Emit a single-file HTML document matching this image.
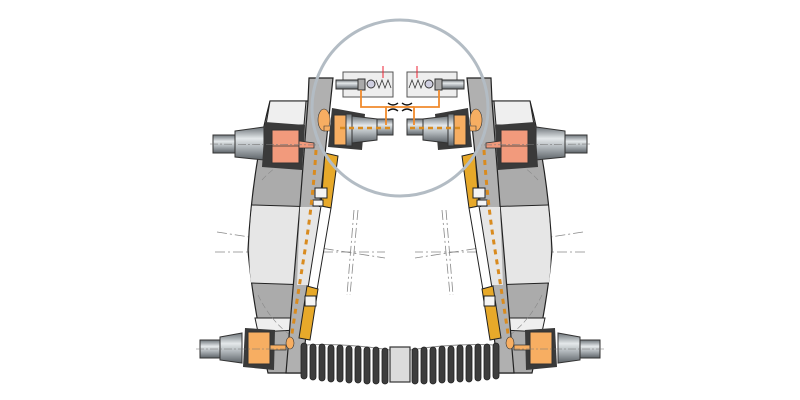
<!DOCTYPE html>
<html><head><meta charset="utf-8"><style>
html,body{margin:0;padding:0;background:#fff;width:800px;height:400px;overflow:hidden}
</style></head><body>
<svg width="800" height="400" viewBox="0 0 800 400" xmlns="http://www.w3.org/2000/svg">
<defs>
<linearGradient id="sh" x1="0" y1="0" x2="0" y2="1">
<stop offset="0" stop-color="#6d7479"/><stop offset="0.35" stop-color="#e4e8ea"/><stop offset="0.6" stop-color="#b4babe"/><stop offset="1" stop-color="#5d6368"/>
</linearGradient>
<g id="half">
<g stroke="#888" stroke-width="0.8" stroke-dasharray="10,3,2,3" fill="none">
<line x1="215" y1="252" x2="385" y2="252"/>
<line x1="217" y1="232" x2="385" y2="258"/>
<line x1="358" y1="210" x2="350" y2="295"/>
<line x1="354" y1="210" x2="347" y2="295"/>
</g>
<!-- body -->
<path d="M270,101 L309,101 L300,373 L268,373 Q252,300 248,250 Q252,170 270,101 Z" fill="#ababab" stroke="#222" stroke-width="1.2"/>
<path d="M252,205 L318,207 L310,285 L251,283 Q247,250 252,205 Z" fill="#e6e6e6"/>
<path d="M270,101 L306,101 L304,125 L266,125 Z" fill="#efefef" stroke="#222" stroke-width="1"/>
<path d="M255,318 L298,318 L297,330 L258,332 Z" fill="#efefef" stroke="#222" stroke-width="1"/>
<line x1="252" y1="205" x2="318" y2="207" stroke="#222" stroke-width="1"/>
<line x1="251" y1="283" x2="310" y2="285" stroke="#222" stroke-width="1"/>
<path d="M262,180 Q280,160 310,150" fill="none" stroke="#888" stroke-width="0.6" stroke-dasharray="6,3"/>
<path d="M258,295 Q270,320 290,335" fill="none" stroke="#888" stroke-width="0.6" stroke-dasharray="6,3"/>
<!-- shoe plate -->
<path d="M309,78 L333,78 L302,373 L286,373 L300,205 L308,101 Z" fill="#b0b0b0" stroke="#222" stroke-width="1.2"/>
<path d="M300,207 L321,207 L310,285 L297,285 Z" fill="#e6e6e6"/>
<!-- linings -->
<path d="M325,153 L338,156 L331,208 L321,206 Z" fill="#e7a92a" stroke="#222" stroke-width="1"/>
<path d="M321,206 L331,208 L317,290 L308,288 Z" fill="#fff" stroke="#222" stroke-width="1"/>
<path d="M307,286 L318,289 L310,340 L299,338 Z" fill="#e7a92a" stroke="#222" stroke-width="1"/>
<rect x="315" y="188" width="12" height="10" fill="#f4f4f4" stroke="#222"/>
<rect x="313" y="200" width="10" height="6" fill="#f4f4f4" stroke="#222"/>
<rect x="305" y="296" width="11" height="10" fill="#f4f4f4" stroke="#222"/>
<path d="M316,150 Q313,200 305,250 Q297,300 291,340" fill="none" stroke="#d98b1f" stroke-width="3" stroke-dasharray="5,5"/>
<!-- top actuator -->
<rect x="213" y="135" width="22" height="18" fill="url(#sh)" stroke="#333"/>
<path d="M235,131 L264,127 L264,160 L235,157 Z" fill="url(#sh)" stroke="#333"/>
<rect x="264" y="126" width="8" height="36" fill="url(#sh)" stroke="#333"/>
<path d="M265,122 L305,125 L302,170 L262,167 Z" fill="#3a3a3a"/>
<rect x="272" y="130" width="27" height="33" fill="#f29a7c" stroke="#333"/>
<line x1="272" y1="146" x2="299" y2="146" stroke="#333" stroke-width="0.8"/>
<path d="M299,141 L314,143 L314,148 L299,148 Z" fill="#f29a7c" stroke="#333" stroke-width="0.8"/>
<line x1="210" y1="144" x2="320" y2="145" stroke="#777" stroke-width="0.6" stroke-dasharray="8,2,2,2"/>
<!-- bottom actuator -->
<rect x="200" y="340" width="20" height="18" fill="url(#sh)" stroke="#333"/>
<path d="M220,337 L242,333 L242,363 L220,360 Z" fill="url(#sh)" stroke="#333"/>
<path d="M245,328 L275,330 L274,370 L243,367 Z" fill="#3a3a3a"/>
<rect x="248" y="332" width="22" height="32" fill="#f7ae62" stroke="#333"/>
<path d="M270,345 L286,345 L286,350 L270,350 Z" fill="#f7ae62" stroke="#333" stroke-width="0.8"/>
<ellipse cx="290" cy="343" rx="4" ry="6" fill="#f7ae62" stroke="#333" stroke-width="0.6"/>
<line x1="196" y1="349" x2="290" y2="349" stroke="#777" stroke-width="0.6" stroke-dasharray="8,2,2,2"/>
<!-- inner actuator -->
<ellipse cx="324" cy="120" rx="6" ry="11" fill="#f7ae62" stroke="#333" stroke-width="0.6"/>
<path d="M324,126 L334,126 L334,131 L324,131 Z" fill="#f7ae62" stroke="#333" stroke-width="0.6"/>
<path d="M332,108 L365,114 L362,150 L328,147 Z" fill="#3a3a3a"/>
<rect x="334" y="115" width="12" height="30" fill="#f7ae62" stroke="#333"/>
<rect x="346" y="114" width="6" height="32" fill="url(#sh)" stroke="#333"/>
<path d="M352,116 L377,119 L377,140 L352,143 Z" fill="url(#sh)" stroke="#333"/>
<rect x="377" y="119" width="16" height="16" fill="url(#sh)" stroke="#333"/>
<line x1="340" y1="128" x2="390" y2="128" stroke="#d98b1f" stroke-width="2.5" stroke-dasharray="5,4"/>
<!-- valve box -->
<rect x="343" y="72" width="50" height="25" fill="#eeeeee" stroke="#555"/>
<rect x="336" y="80" width="22" height="9" fill="url(#sh)" stroke="#333"/>
<rect x="358" y="79" width="7" height="11" fill="#aaa" stroke="#333"/>
<circle cx="371" cy="84" r="4" fill="#cfcfe0" stroke="#333"/>
<path d="M376,80 l3,8 l3,-8 l3,8 l3,-8 l3,8" fill="none" stroke="#333" stroke-width="0.8"/>
<line x1="383" y1="66" x2="383" y2="78" stroke="#e23" stroke-width="1"/>
<path d="M361,90 V107 H386 V125" fill="none" stroke="#f08a2c" stroke-width="1.8"/>
<path d="M386,107 H400" stroke="#f08a2c" stroke-width="1.8"/>
<path d="M388,103 Q393,107 398,103 M388,111 Q393,107 398,111" fill="none" stroke="#111" stroke-width="1.4"/>
<!-- spring -->
<path d="M305,345 Q345,343 390,350" stroke="#888" stroke-width="1" fill="none"/>
<g fill="#3d3d3d" stroke="#222" stroke-width="0.8">
<rect x="301" y="343" width="6" height="36" rx="3"/>
<rect x="310" y="344" width="6" height="36" rx="3"/>
<rect x="319" y="344" width="6" height="37" rx="3"/>
<rect x="328" y="345" width="6" height="37" rx="3"/>
<rect x="337" y="345" width="6" height="37" rx="3"/>
<rect x="346" y="346" width="6" height="37" rx="3"/>
<rect x="355" y="346" width="6" height="37" rx="3"/>
<rect x="364" y="347" width="6" height="37" rx="3"/>
<rect x="373" y="347" width="6" height="37" rx="3"/>
<rect x="382" y="348" width="6" height="36" rx="3"/>
</g>
</g>
</defs>
<use href="#half"/>
<use href="#half" transform="translate(800,0) scale(-1,1)"/>
<rect x="390" y="347" width="20" height="35" fill="#dcdcdc" stroke="#333" stroke-width="1.2"/>
<circle cx="400" cy="108" r="88" fill="none" stroke="#b3bcc4" stroke-width="3"/>
</svg>
</body></html>
